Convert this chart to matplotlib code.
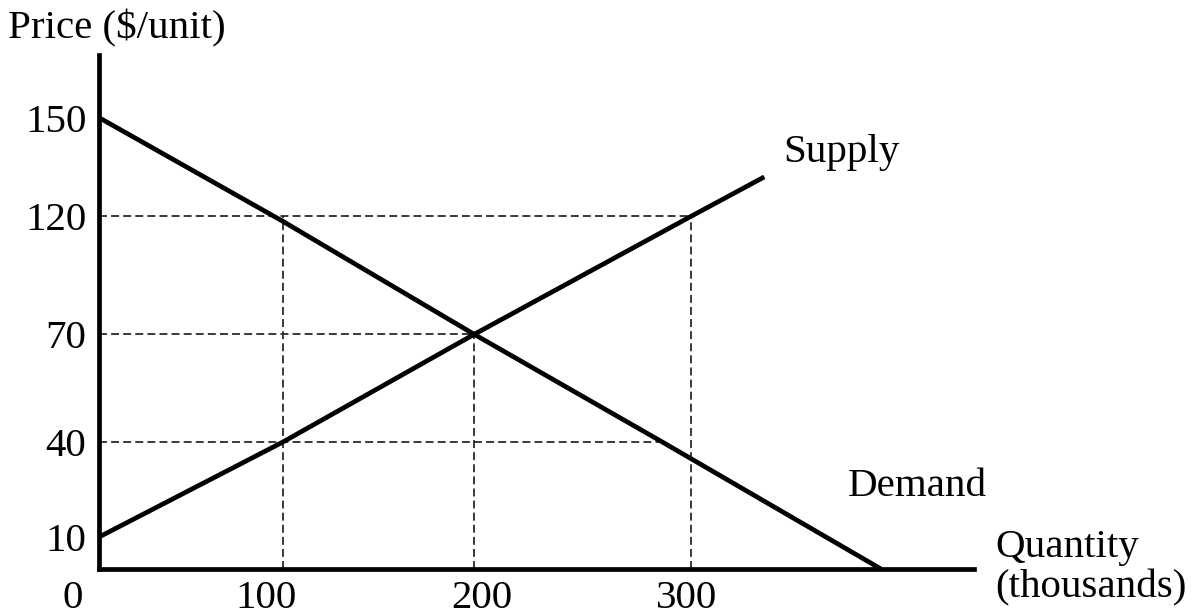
import matplotlib.pyplot as plt
import matplotlib.transforms as mtransforms
import numpy as np

plt.rcParams['font.family'] = ['Liberation Serif', 'DejaVu Serif']

# data
q_ticks = [0, 100, 200, 300]
p_ticks = [10, 40, 70, 120, 150]

supply_q = [0, 100, 200, 300, 334]
supply_p = [10, 40, 70, 120, 132]

demand_q = [0, 100, 200, 287, 388]
demand_p = [150, 118, 70, 40, 0]

# guide lines: (quantity, price) points that the dashes join up with
guide_h = [(300, 120), (200, 70), (287, 40)]
guide_v = [(100, 120), (200, 70), (300, 120)]

# the drawing is not to scale, so both axes get a piecewise scale
x_knots = [0, 100, 200, 300, 450]
x_pos = [0, 184, 376, 593, 918]
y_knots = [0, 10, 40, 70, 120, 150, 200]
y_pos = [0, 32, 127, 235, 353, 452, 617]

# the printed quantity labels are not centred on their guide lines (px)
x_label_shift = [-26, -17, 8, -4]


def fx(v):
    return np.interp(v, x_knots, x_pos)


def fx_inv(v):
    return np.interp(v, x_pos, x_knots)


def fy(v):
    return np.interp(v, y_knots, y_pos)


def fy_inv(v):
    return np.interp(v, y_pos, y_knots)


fig = plt.figure(figsize=(11.96, 6.15), dpi=100)
ax = fig.add_axes([99 / 1196, 46 / 615, 875 / 1196, 514 / 615])
ax.set_xscale('function', functions=(fx, fx_inv))
ax.set_yscale('function', functions=(fy, fy_inv))
ax.set_xlim(0, 431)
ax.set_ylim(0, 169)

dash = dict(color='#2a2a2a', lw=1.3, dashes=(4.4, 2.3))
for q, p in guide_h:
    ax.plot([0, q], [p, p], **dash)
for q, p in guide_v:
    ax.plot([q, q], [0, p], **dash)

ax.plot(demand_q, demand_p, color='black', lw=3.4, solid_capstyle='butt')
ax.plot(supply_q, supply_p, color='black', lw=3.4, solid_capstyle='butt')

for s in ['top', 'right']:
    ax.spines[s].set_visible(False)
for s in ['left', 'bottom']:
    ax.spines[s].set_linewidth(3.4)
    ax.spines[s].set_capstyle('projecting')

ax.set_xticks(q_ticks)
ax.set_xticklabels([str(v) for v in q_ticks])
ax.set_yticks(p_ticks)
ax.set_yticklabels([str(v) for v in p_ticks])
ax.minorticks_off()
ax.tick_params(length=0, labelsize=29.5)
ax.tick_params(axis='x', pad=8)
ax.tick_params(axis='y', pad=9)

for lab, dx in zip(ax.get_xticklabels(), x_label_shift):
    lab.set_transform(lab.get_transform() +
                      mtransforms.ScaledTranslation(dx / 100, 0, fig.dpi_scale_trans))

fig.text(8 / 1196, 1 - 38 / 615, 'Price ($/unit)', fontsize=29.5, va='baseline')
fig.text(783 / 1196, 1 - 162 / 615, 'Supply', fontsize=29.5, va='baseline')
fig.text(848 / 1196, 1 - 496 / 615, 'Demand', fontsize=29.5, va='baseline')
fig.text(995 / 1196, 1 - 557 / 615, 'Quantity', fontsize=29.5, va='baseline')
fig.text(995 / 1196, 1 - 597 / 615, '(thousands)', fontsize=29.5, va='baseline')

fig.savefig('out.png', dpi=100)
